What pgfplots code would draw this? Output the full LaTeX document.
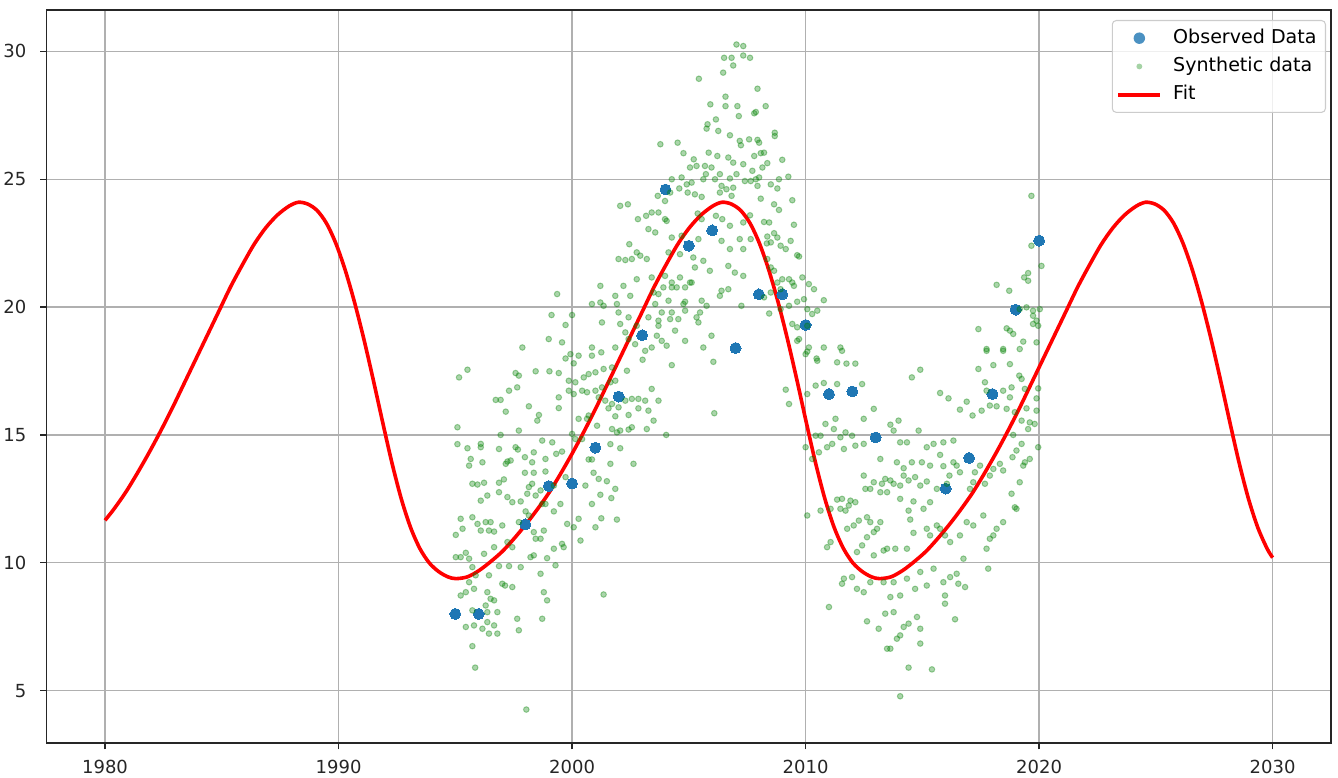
\documentclass[border=0pt]{standalone}
\usepackage{fontspec}
\setmainfont{DejaVu Sans}
\usepackage{pgfplots}
\pgfplotsset{compat=1.18}
\definecolor{mplblue}{HTML}{1F77B4}
\definecolor{mplgreen}{HTML}{008000}
\definecolor{gridgray}{HTML}{B0B0B0}
\begin{document}
\begin{tikzpicture}
\useasboundingbox (-35pt,-25.5pt) rectangle (968.45pt,557.25pt);
\begin{axis}[
  at={(0,0)}, anchor=south west, scale only axis,
  width=963.2pt, height=549.75pt,
  xmin=1977.5, xmax=2032.5, ymin=2.95, ymax=31.62,
  xtick={1980,1990,2000,2010,2020,2030},
  ytick={5,10,15,20,25,30},
  grid=major,
  major grid style={color=gridgray, line width=1.08pt},
  axis line style={line width=1.08pt, black!85},
  tick align=outside, tick pos=left,
  major tick length=4.7pt,
  tick style={line width=1.08pt, black!85},
  ticklabel style={font=\fontsize{13.5}{16}\selectfont, text=black!85},
  yticklabel style={xshift=-7pt},
  xticklabel style={yshift=-4.5pt},
  /pgf/number format/assume math mode=true,
  /pgf/number format/1000 sep={},
  legend style={at={(1,1)}, anchor=north east, xshift=-3.75pt, yshift=-7.5pt,
    font=\fontsize{14.3}{17}\selectfont, draw=black!20, rounded corners=3pt,
    fill=white, fill opacity=0.8, text opacity=1, line width=0.8pt,
    inner xsep=3.2pt, inner ysep=4.4pt, row sep=3.5pt,
    cells={anchor=west},
    nodes={text height=10.5pt, text depth=3.2pt, inner ysep=2pt, inner xsep=0pt},
    /tikz/every odd column/.append style={column sep=8.3pt}},
]
% Observed data
\addplot[only marks, mark=*, mark size=4.1pt, mark options={fill=mplblue, draw=mplblue, line width=0pt},
  legend image code/.code={\path[draw=none] (0pt,0pt) -- (31.5pt,0pt); \fill[draw=none, fill=mplblue] (15.75pt,0pt) circle (4.3pt);}]
coordinates {
(1995,8.0) (1996,8.0) (1998,11.5) (1999,13.0) (2000,13.1) (2001,14.5) (2002,16.5)
(2003,18.9) (2004,24.6) (2005,22.4) (2006,23.0) (2007,18.4) (2008,20.5) (2009,20.5)
(2010,19.3) (2011,16.6) (2012,16.7) (2013,14.9) (2016,12.9) (2017,14.1) (2018,16.6)
(2019,19.9) (2020,22.6)
};
\addlegendentry{Observed Data\hspace*{3.5pt}}
% Synthetic data
\addplot[only marks, mark=*, mark size=2.1pt,
  mark options={fill=mplgreen, draw=mplgreen, line width=0.75pt, fill opacity=0.33, draw opacity=0.36},
  legend image code/.code={\path[draw=none] (0pt,0pt) -- (31.5pt,0pt); \fill[draw=none, fill=mplgreen, fill opacity=0.35] (15.75pt,0pt) circle (2.2pt);}]
coordinates {
(2007.04,30.27) (2007.33,30.21) (2006.51,29.75) (2006.83,29.75) (2007.33,29.84) (2006.90,29.45)
(2006.47,29.17) (2005.43,28.93) (2006.57,28.23) (2007.08,27.86) (2005.92,27.93) (2006.57,27.86)
(2007.14,27.47) (2006.16,27.34) (2005.80,27.15) (2005.76,26.98) (2006.26,26.89) (2006.76,26.72)
(2007.18,26.50) (2007.23,26.33) (2003.78,26.37) (2004.52,26.43) (2004.77,26.02) (2005.21,25.78)
(2005.85,26.04) (2006.22,25.91) (2006.69,25.85) (2006.90,25.65) (2007.33,25.59) (2005.05,25.46)
(2005.33,25.52) (2005.69,25.52) (2005.97,25.46) (2005.73,25.20) (2006.33,25.20) (2007.04,25.20)
(2004.27,25.00) (2004.69,25.07) (2004.91,24.80) (2005.12,24.87) (2005.62,25.00) (2006.12,25.00)
(2006.76,25.03) (2007.40,24.93) (2004.59,24.64) (2004.95,24.48) (2005.26,24.41) (2005.55,24.31)
(2006.40,24.74) (2006.61,24.61) (2006.90,24.67) (2006.33,24.48) (2006.83,24.35) (2003.67,24.35)
(2003.98,24.15) (2004.20,24.48) (2002.06,23.96) (2002.39,24.02) (2002.82,23.44) (2003.17,23.57)
(2003.41,23.70) (2003.70,23.70) (2003.98,23.44) (2004.05,23.37) (2005.38,23.66) (2005.55,23.44)
(2006.16,23.57) (2006.43,23.44) (2006.76,23.18) (2007.33,23.31) (2003.27,23.05) (2003.56,22.92)
(2004.27,22.72) (2004.69,22.79) (2005.41,22.66) (2006.40,22.59) (2007.18,22.66) (2002.45,22.46)
(2002.77,22.14) (2002.92,22.01) (2001.99,21.88) (2002.28,21.84) (2002.56,21.88) (2003.20,21.88)
(2004.13,22.14) (2004.62,22.07) (2005.19,21.94) (2005.62,21.81) (2006.76,22.27) (2007.33,22.27)
(2005.26,21.55) (2005.90,21.42) (2006.69,21.61) (2006.97,21.35) (2007.33,21.22) (2003.41,21.16)
(2003.98,21.22) (2004.27,20.96) (2004.62,21.16) (2005.05,20.96) (2004.27,20.77) (2004.48,20.77)
(2004.84,20.77) (2005.12,20.96) (2003.91,20.77) (2001.21,20.83) (2001.85,20.44) (2002.20,20.83)
(2002.49,20.44) (2002.77,21.09) (2003.49,20.57) (2003.70,20.51) (2004.13,20.25) (2004.84,20.21)
(2005.55,20.25) (2006.40,20.64) (2006.69,20.70) (2006.33,20.44) (1999.36,20.51) (2000.85,20.12)
(2001.21,20.18) (2001.35,20.05) (2001.92,20.12) (2001.99,19.79) (2002.42,19.60) (2003.56,20.12)
(2003.84,19.79) (2004.27,19.79) (2004.77,20.12) (2004.84,19.86) (2005.48,19.79) (2005.76,20.05)
(2007.25,20.05) (1999.12,19.69) (2000.00,19.69) (1999.72,19.30) (2001.28,19.40) (2002.06,19.34)
(2002.28,19.01) (2002.77,19.27) (2003.27,19.60) (2003.70,19.47) (2004.20,19.53) (2004.55,19.53)
(2003.70,19.27) (2005.33,19.60) (2005.41,19.40) (2002.70,18.55) (2003.41,18.42) (2003.63,18.88)
(2003.84,18.68) (2004.05,18.49) (2004.41,19.08) (2004.84,18.68) (2005.62,18.42) (2005.97,18.88)
(1997.87,18.42) (1999.00,18.75) (1999.57,18.62) (2000.85,18.42) (2001.85,18.42) (2002.42,18.75)
(2007.62,29.75) (2007.94,28.54) (2008.29,27.86) (2007.80,27.58) (2007.87,27.63) (2008.68,26.82)
(2008.68,26.69) (2007.58,26.56) (2007.94,26.54) (2008.01,26.43) (2007.80,25.91) (2008.08,26.02)
(2008.22,26.04) (2008.36,25.63) (2008.15,25.46) (2009.00,25.76) (2007.72,25.33) (2007.65,24.93)
(2007.87,25.00) (2008.01,25.07) (2007.94,24.74) (2008.51,24.80) (2008.79,24.64) (2009.26,25.10)
(2008.86,25.00) (2008.08,24.24) (2008.65,24.02) (2009.43,24.18) (2008.86,23.80) (2007.62,23.59)
(2008.22,23.33) (2008.44,23.31) (2009.50,23.22) (2007.65,22.66) (2008.36,22.76) (2008.65,22.89)
(2008.79,22.72) (2008.34,22.49) (2008.51,22.53) (2008.93,22.40) (2009.36,22.59) (2009.15,22.27)
(2009.64,22.03) (2009.72,21.98) (2008.36,21.88) (2008.51,21.55) (2008.65,21.42) (2009.00,21.09)
(2009.29,21.09) (2008.79,20.96) (2008.51,20.57) (2009.43,20.96) (2009.50,20.83) (2009.86,21.16)
(2010.14,20.90) (2010.36,20.70) (2008.22,20.38) (2008.44,19.75) (2008.93,19.92) (2009.29,20.05)
(2009.64,20.21) (2009.93,20.31) (2010.78,20.27) (2008.93,20.70) (2010.07,19.92) (2010.50,19.86)
(2010.28,19.73) (2009.43,19.34) (2009.64,19.21) (2010.07,19.27) (2009.72,18.75) (2009.64,18.68)
(2010.78,18.42) (2010.14,18.42) (2011.49,18.42)
(2019.67,24.35) (2019.67,22.40) (2020.10,21.61) (2018.18,20.87) (2018.72,20.64) (2019.53,21.33)
(2019.36,21.16) (2019.53,21.03) (2019.17,19.92) (2019.46,19.99) (2019.74,19.86) (2020.03,19.92)
(2019.74,19.66) (2019.89,19.47) (2019.74,19.34) (2019.96,19.27) (2017.40,19.14) (2018.61,19.17)
(2018.75,19.08) (2018.89,18.95) (2019.32,18.65) (2019.89,18.62) (2017.75,18.36) (2018.46,18.36)
(2019.17,18.36)
(1999.93,18.16) (2000.28,18.10) (2000.85,18.10) (2001.25,18.23) (1999.72,17.99) (2000.07,17.80)
(2003.13,18.29) (2003.02,17.94) (2006.05,17.86) (2004.27,17.73) (1995.16,17.25) (1995.52,17.55)
(1997.58,17.42) (1997.72,17.32) (1998.44,17.49) (1999.03,17.49) (1999.43,17.42) (2000.50,17.25)
(2000.71,17.38) (2001.00,17.45) (2001.35,17.58) (2001.71,17.64) (1999.86,17.12) (2000.14,17.06)
(2000.43,16.73) (2000.64,16.67) (2001.00,16.73) (2001.28,16.86) (2001.64,17.06) (2001.85,17.12)
(2002.35,17.51) (1997.30,16.73) (1997.65,16.86) (1996.73,16.37) (1996.94,16.37) (1997.16,15.91)
(1998.15,16.12) (1999.43,16.47) (1999.43,16.05) (1999.86,16.73) (2000.07,16.60) (2001.14,16.47)
(2001.42,16.34) (2001.71,16.21) (2002.28,16.34) (2002.56,16.41) (2002.84,16.41) (2003.13,16.34)
(2003.41,16.80) (2003.70,16.34) (2006.09,15.85) (2001.56,16.04) (2001.99,16.08) (2001.85,15.73)
(2002.42,15.78) (2002.84,16.04) (2003.27,15.95) (2003.49,15.56) (2002.56,15.30) (2003.20,15.23)
(2000.71,15.76) (2001.07,15.36) (2000.64,15.63) (2000.28,15.63) (1998.58,15.78) (1998.51,15.56)
(1995.09,15.30) (1996.94,15.00) (1997.72,15.17) (2000.00,15.04) (2000.14,14.84) (2000.43,14.84)
(2001.71,15.23) (2001.92,15.10) (2002.06,15.17) (2002.42,15.21) (2004.03,15.00) (1995.09,14.64)
(1995.52,14.48) (1996.09,14.65) (1996.09,14.52) (1996.87,14.45) (1997.58,14.52) (1997.68,14.43)
(1998.36,14.32) (1998.72,14.78) (1999.15,14.71) (1999.57,14.35) (2000.71,14.04) (2000.85,14.04)
(2001.64,14.64) (2002.06,14.48) (2001.64,13.87) (2002.63,13.87) (1995.66,14.06) (1995.59,13.80)
(1996.16,13.93) (1997.16,13.87) (1997.23,13.96) (1997.37,14.00) (1997.98,14.13) (1998.29,13.93)
(1998.86,14.06) (1999.32,14.26) (1995.73,13.09) (1995.95,13.06) (1996.23,13.13) (1996.87,13.13)
(1997.08,13.26) (1997.98,13.52) (1998.36,13.52) (1998.86,13.57) (1999.72,13.35) (1999.22,13.02)
(2000.57,13.02) (2000.92,13.52) (2001.14,13.28) (2001.49,13.19) (2001.85,12.89) (1996.09,12.43)
(1996.37,12.63) (1996.87,12.76) (1997.23,12.57) (1997.44,12.37) (1997.80,12.40) (1998.08,12.70)
(1998.15,12.96) (1998.65,12.83) (1998.86,12.30) (1998.44,12.63) (1998.29,13.09) (1999.50,12.30)
(2000.85,12.30) (2001.21,12.66) (2001.68,12.53) (1995.23,11.72) (1995.31,11.33) (1995.02,11.09)
(1995.73,11.78) (1995.95,11.52) (1996.09,11.26) (1996.30,11.59) (1996.51,11.59) (1996.66,11.22)
(1996.44,11.26) (1997.01,11.46) (1997.72,11.59) (1998.15,11.85) (1998.01,12.01) (1998.72,12.30)
(1999.22,12.01) (1999.79,11.52) (2000.28,11.72) (2000.07,11.39) (2001.00,11.39) (2001.25,11.74)
(2001.92,11.69) (1995.02,10.22) (1995.23,10.22) (1995.45,10.39) (1995.59,10.16) (1995.73,9.83)
(1996.23,10.35) (1996.66,10.61) (1997.23,10.81) (1997.44,10.61) (1996.87,9.87) (1997.30,9.87)
(1997.80,9.83) (1998.22,10.22) (1998.36,10.29) (1998.93,10.18) (1999.29,9.90) (1999.57,10.74)
(1999.64,10.61) (1999.22,10.55) (1998.44,10.94) (1998.79,11.26) (1998.36,11.20) (1998.65,10.94)
(2000.36,10.87) (1995.23,8.72) (1995.45,8.85) (1995.80,8.98) (1995.59,9.24) (1995.87,9.51)
(1996.44,9.51) (1997.01,9.18) (1997.13,9.11) (1997.44,9.05) (1998.79,8.85) (1998.93,8.53)
(1996.37,8.85) (1996.51,8.59) (1996.66,8.53) (1996.30,8.33) (1995.73,8.14) (1996.37,8.07)
(1996.80,8.07) (1995.45,7.49) (1995.80,7.55) (1996.16,7.42) (1996.37,7.68) (1996.44,7.23)
(1996.66,7.55) (1996.80,7.23) (1997.65,7.81) (1997.72,7.36) (1998.72,7.81) (1995.73,6.74)
(1995.85,5.90) (1998.04,4.26) (2001.35,8.76) (1998.65,9.57)
(2010.07,18.26) (2010.47,17.99) (2011.56,18.29) (2011.35,17.84) (2011.75,17.79) (2012.13,17.79)
(2010.50,17.90) (2010.00,18.16) (2009.15,16.77) (2009.29,16.21) (2010.07,16.60) (2010.43,16.93)
(2010.78,17.03) (2011.35,16.99) (2012.42,16.99) (2014.55,17.25) (2014.91,17.55) (2017.40,17.58)
(2017.75,18.29) (2018.46,18.29) (2018.04,17.73) (2018.75,17.77) (2019.15,17.32) (2018.82,16.86)
(2019.25,17.19) (2019.39,16.80) (2019.96,16.82) (2019.89,16.43) (2018.75,16.47) (2018.46,16.73)
(2017.68,17.06) (2017.75,16.73) (2015.76,16.64) (2016.12,16.43) (2016.61,15.99) (2016.90,16.30)
(2017.15,15.76) (2017.54,15.95) (2017.89,16.15) (2018.18,16.12) (2018.61,16.02) (2018.96,15.89)
(2019.25,15.56) (2019.46,16.04) (2019.89,15.95) (2019.60,15.49) (2019.81,15.43) (2019.53,15.23)
(2019.96,14.52) (2018.89,15.00) (2019.25,14.65) (2019.03,14.39) (2018.86,14.13) (2019.39,13.93)
(2019.32,13.80) (2019.60,14.06) (2019.17,13.15) (2018.82,12.70) (2019.03,12.11) (2018.46,13.61)
(2018.32,13.87) (2018.04,13.67) (2017.89,13.41) (2017.68,13.09) (2017.25,13.54) (2017.47,13.80)
(2017.18,13.15) (2017.04,12.89) (2016.61,13.54) (2016.47,13.80) (2016.16,13.41) (2016.05,13.09)
(2015.90,13.78) (2016.33,13.93) (2015.76,14.22) (2015.19,14.52) (2015.48,14.65) (2015.90,14.71)
(2016.33,14.78) (2015.33,13.80) (2014.98,13.93) (2014.55,13.93) (2014.20,13.70) (2013.91,13.93)
(2014.05,14.71) (2014.34,14.71) (2014.20,13.41) (2014.41,13.22) (2014.05,13.02) (2014.69,13.35)
(2014.91,13.02) (2015.19,13.18) (2015.62,12.89) (2015.33,12.37) (2015.05,12.11) (2014.62,12.40)
(2014.41,12.04) (2014.48,11.69) (2014.05,12.50) (2013.77,13.09) (2013.63,13.22) (2013.41,13.28)
(2013.20,14.06) (2013.77,15.17) (2013.63,15.40) (2013.98,15.56) (2014.84,15.17) (2012.92,16.02)
(2012.49,15.63) (2011.99,14.97) (2011.71,15.10) (2011.21,15.23) (2010.85,15.43) (2011.28,15.63)
(2011.14,14.65) (2010.92,14.52) (2010.64,14.97) (2010.43,14.97) (2010.00,14.52) (2010.28,14.06)
(2010.57,14.32) (2011.49,14.91) (2011.64,14.45) (2012.13,14.58) (2012.49,14.65) (2012.49,13.41)
(2012.92,13.15) (2013.27,13.09) (2013.49,12.76) (2013.20,12.76) (2012.77,12.89) (2012.56,12.89)
(2012.13,12.37) (2011.92,12.43) (2011.56,12.50) (2011.35,12.47) (2011.49,12.11) (2011.71,12.04)
(2011.85,12.24) (2011.07,12.11) (2010.64,12.04) (2010.07,11.85) (2011.78,11.33) (2012.06,11.46)
(2012.28,11.65) (2012.63,11.78) (2012.77,11.59) (2013.20,11.59) (2013.06,11.33) (2012.92,11.20)
(2012.63,11.00) (2012.42,10.68) (2012.20,10.42) (2012.92,10.29) (2013.34,10.48) (2013.49,10.55)
(2013.84,10.55) (2014.34,10.55) (2014.62,11.17) (2015.19,11.33) (2015.33,11.07) (2015.62,11.46)
(2015.76,11.33) (2015.97,11.07) (2016.19,10.81) (2016.61,11.07) (2016.90,11.59) (2017.18,11.46)
(2017.61,11.85) (2017.89,10.94) (2018.04,11.07) (2018.18,11.33) (2018.46,11.59) (2018.96,12.17)
(2017.75,10.55) (2016.76,10.16) (2016.47,9.57) (2016.54,9.18) (2016.83,9.05) (2016.19,9.44)
(2015.90,9.24) (2015.48,9.77) (2015.19,9.11) (2014.91,9.64) (2014.69,8.98) (2014.34,9.38)
(2013.77,9.24) (2013.34,9.24) (2012.77,9.24) (2012.49,8.85) (2012.20,8.98) (2011.99,9.44)
(2011.64,9.38) (2011.56,9.18) (2011.00,8.27) (2012.63,7.71) (2013.13,7.42) (2013.41,8.01)
(2013.77,8.07) (2013.63,8.66) (2014.05,8.72) (2014.41,7.62) (2014.77,7.88) (2014.91,7.42)
(2014.91,6.84) (2014.20,7.49) (2014.05,7.16) (2013.91,7.03) (2013.63,6.64) (2013.49,6.64)
(2014.41,5.90) (2015.41,5.83) (2014.05,4.78) (2015.97,8.72) (2015.97,8.40) (2016.40,7.79)
(2017.82,9.77) (2010.92,10.61) (2011.07,10.81)
};
\addlegendentry{Synthetic data\hspace*{3.5pt}}
% Fit
\addplot[color=red, line width=2.7pt, smooth, tension=0.5,
  legend image code/.code={\draw[red, line width=2.7pt] (0pt,0pt) -- (31.5pt,0pt);}]
coordinates {
(1980.00,11.66) (1980.38,12.10) (1980.88,12.75) (1981.38,13.50) (1981.88,14.30) (1982.38,15.15)
(1982.88,16.05) (1983.38,17.00) (1983.88,17.95) (1984.38,18.90) (1984.88,19.85) (1985.38,20.80)
(1985.88,21.65) (1986.38,22.45) (1986.88,23.10) (1987.38,23.60) (1987.88,23.95) (1988.28,24.10)
(1988.68,24.03) (1989.08,23.78) (1989.48,23.28) (1989.88,22.50) (1990.28,21.46) (1990.68,20.20)
(1991.08,18.76) (1991.48,17.18) (1991.88,15.53) (1992.28,13.93) (1992.68,12.52) (1993.08,11.39)
(1993.48,10.56) (1993.88,10.00) (1994.28,9.66) (1994.68,9.45)
(1995.02,9.38) (1995.52,9.45) (1996.02,9.70) (1996.52,10.05) (1997.02,10.45) (1997.52,10.95)
(1998.02,11.50) (1998.52,12.10) (1999.02,12.75) (1999.52,13.50) (2000.02,14.30) (2000.52,15.15)
(2001.02,16.05) (2001.52,17.00) (2002.02,17.95) (2002.52,18.90) (2003.02,19.85) (2003.52,20.80)
(2004.02,21.65) (2004.52,22.45) (2005.02,23.10) (2005.52,23.60) (2006.02,23.95) (2006.42,24.10)
(2006.82,24.03) (2007.22,23.78) (2007.62,23.28) (2008.02,22.50) (2008.42,21.46) (2008.82,20.20)
(2009.22,18.76) (2009.62,17.18) (2010.02,15.53) (2010.42,13.93) (2010.82,12.52) (2011.22,11.39)
(2011.62,10.56) (2012.02,10.00) (2012.42,9.66) (2012.82,9.45)
(2013.16,9.38) (2013.66,9.45) (2014.16,9.70) (2014.66,10.05) (2015.16,10.45) (2015.66,10.95)
(2016.16,11.50) (2016.66,12.10) (2017.16,12.75) (2017.66,13.50) (2018.16,14.30) (2018.66,15.15)
(2019.16,16.05) (2019.66,17.00) (2020.16,17.95) (2020.66,18.90) (2021.16,19.85) (2021.66,20.80)
(2022.16,21.65) (2022.66,22.45) (2023.16,23.10) (2023.66,23.60) (2024.16,23.95) (2024.56,24.10)
(2024.96,24.03) (2025.36,23.78) (2025.76,23.28) (2026.16,22.50) (2026.56,21.46) (2026.96,20.20)
(2027.36,18.76) (2027.76,17.18) (2028.16,15.53) (2028.56,13.93) (2028.96,12.52) (2029.36,11.39)
(2029.76,10.56) (2030.00,10.20)
};
\addlegendentry{Fit}
\end{axis}
\end{tikzpicture}
\end{document}
